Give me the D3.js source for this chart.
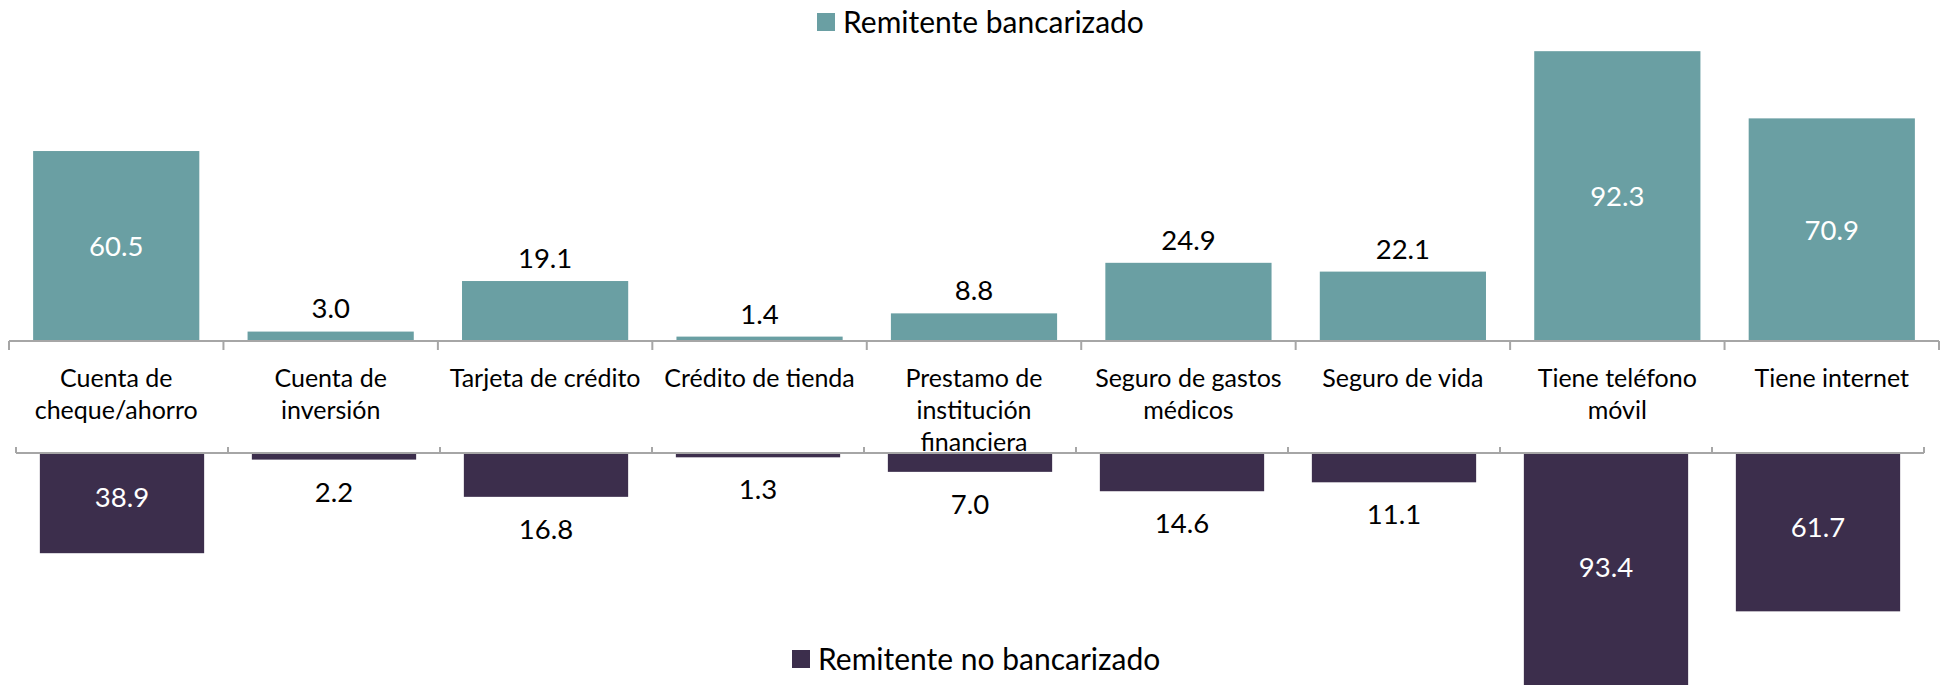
<!DOCTYPE html>
<html>
<head>
<meta charset="utf-8">
<script src="https://cdn.jsdelivr.net/npm/d3@7"></script>
<style>
  html, body { margin: 0; padding: 0; background: #fff; }
  svg { display: block; font-family: Lato, "Open Sans", sans-serif; }
</style>
</head>
<body>
<div id="chart"></div>
<script>
// Productos financieros: remitentes bancarizados (arriba) vs no bancarizados (abajo)
const categories = [
  ["Cuenta de", "cheque/ahorro"],
  ["Cuenta de", "inversión"],
  ["Tarjeta de crédito"],
  ["Crédito de tienda"],
  ["Prestamo de", "institución", "financiera"],
  ["Seguro de gastos", "médicos"],
  ["Seguro de vida"],
  ["Tiene teléfono", "móvil"],
  ["Tiene internet"],
]
const bancarizado = [60.5, 3.0, 19.1, 1.4, 8.8, 24.9, 22.1, 92.3, 70.9]
const noBancarizado = [38.9, 2.2, 16.8, 1.3, 7.0, 14.6, 11.1, 93.4, 61.7]
const seriesNames = ["Remitente bancarizado", "Remitente no bancarizado"]

const W = 1945, H = 685
const colTop = "#6a9fa3"
const colBot = "#3c2e4c"
const axisCol = "#a6a6a6"
const INSIDE = 30 // au-delà, l'étiquette va dans la barre, en blanc

const svg = d3.select("#chart").append("svg")
  .attr("width", W).attr("height", H)

const idx = d3.range(categories.length)

// Deux panneaux, chacun avec sa propre échelle (comme dans l'original)
const xTop = d3.scaleBand().domain(idx).range([9, 1939])
  .paddingInner(0.225).paddingOuter(0.1125)
const xBot = d3.scaleBand().domain(idx).range([16, 1924])
  .paddingInner(0.225).paddingOuter(0.1125)
const yTop = d3.scaleLinear().domain([0, 100]).range([341, 27])
const yBot = d3.scaleLinear().domain([0, 100]).range([454, 709])

// Barres du haut
svg.append("g").selectAll("rect")
  .data(bancarizado)
  .join("rect")
  .attr("x", (_, i) => xTop(i))
  .attr("width", xTop.bandwidth())
  .attr("y", (d) => yTop(d))
  .attr("height", (d) => yTop(0) - yTop(d))
  .attr("fill", colTop)

// Barres du bas
svg.append("g").selectAll("rect")
  .data(noBancarizado)
  .join("rect")
  .attr("x", (_, i) => xBot(i))
  .attr("width", xBot.bandwidth())
  .attr("y", yBot(0))
  .attr("height", (d) => yBot(d) - yBot(0))
  .attr("fill", colBot)

// Axes : ligne + graduations aux frontières des catégories
function drawAxis(x, y0, tickDir) {
  const g = svg.append("g").attr("stroke", axisCol).attr("stroke-width", 2)
  const [a, b] = x.range()
  g.append("line").attr("x1", a).attr("x2", b).attr("y1", y0).attr("y2", y0)
  const bounds = d3.range(categories.length + 1).map((i) => a + i * x.step())
  g.selectAll("line.tick").data(bounds).join("line")
    .attr("class", "tick")
    .attr("x1", (d) => d).attr("x2", (d) => d)
    .attr("y1", y0).attr("y2", y0 + tickDir)
}
drawAxis(xTop, yTop(0), 9)
drawAxis(xBot, yBot(0) - 1, -6)

// Étiquettes de valeurs
const fmt = d3.format(".1f")
svg.append("g").selectAll("text")
  .data(bancarizado)
  .join("text")
  .attr("x", (_, i) => xTop(i) + xTop.bandwidth() / 2)
  .attr("y", (d) => d > INSIDE ? (yTop(d) + yTop(0)) / 2 : yTop(d) - 23)
  .attr("dy", "0.36em")
  .attr("text-anchor", "middle")
  .attr("font-size", 27.5)
  .attr("fill", (d) => d > INSIDE ? "#fff" : "#000")
  .text(fmt)

svg.append("g").selectAll("text")
  .data(noBancarizado)
  .join("text")
  .attr("x", (_, i) => xBot(i) + xBot.bandwidth() / 2)
  .attr("y", (d) => d > INSIDE ? (yBot(d) + yBot(0)) / 2 - 6 : yBot(d) + 32)
  .attr("dy", "0.36em")
  .attr("text-anchor", "middle")
  .attr("font-size", 27.5)
  .attr("fill", (d) => d > INSIDE ? "#fff" : "#000")
  .text(fmt)

// Libellés des catégories, entre les deux panneaux
svg.append("g").selectAll("text")
  .data(categories)
  .join("text")
  .attr("text-anchor", "middle")
  .attr("font-size", 25)
  .attr("fill", "#000")
  .each(function (lines, i) {
    const cx = xTop(i) + xTop.bandwidth() / 2
    d3.select(this).selectAll("tspan").data(lines).join("tspan")
      .attr("x", cx)
      .attr("y", (_, k) => 378 + k * 32)
      .attr("dy", "0.36em")
      .text((t) => t)
  })

// Légendes
const legends = [
  { name: seriesNames[0], color: colTop, x: 817, y: 22 },
  { name: seriesNames[1], color: colBot, x: 792, y: 659 },
]
const lg = svg.append("g").selectAll("g").data(legends).join("g")
  .attr("transform", (d) => `translate(${d.x},${d.y})`)
lg.append("rect").attr("x", 0).attr("y", -9).attr("width", 18).attr("height", 18)
  .attr("fill", (d) => d.color)
lg.append("text").attr("x", 26).attr("dy", "0.36em")
  .attr("font-size", 30).attr("fill", "#000")
  .text((d) => d.name)
</script>
</body>
</html>
